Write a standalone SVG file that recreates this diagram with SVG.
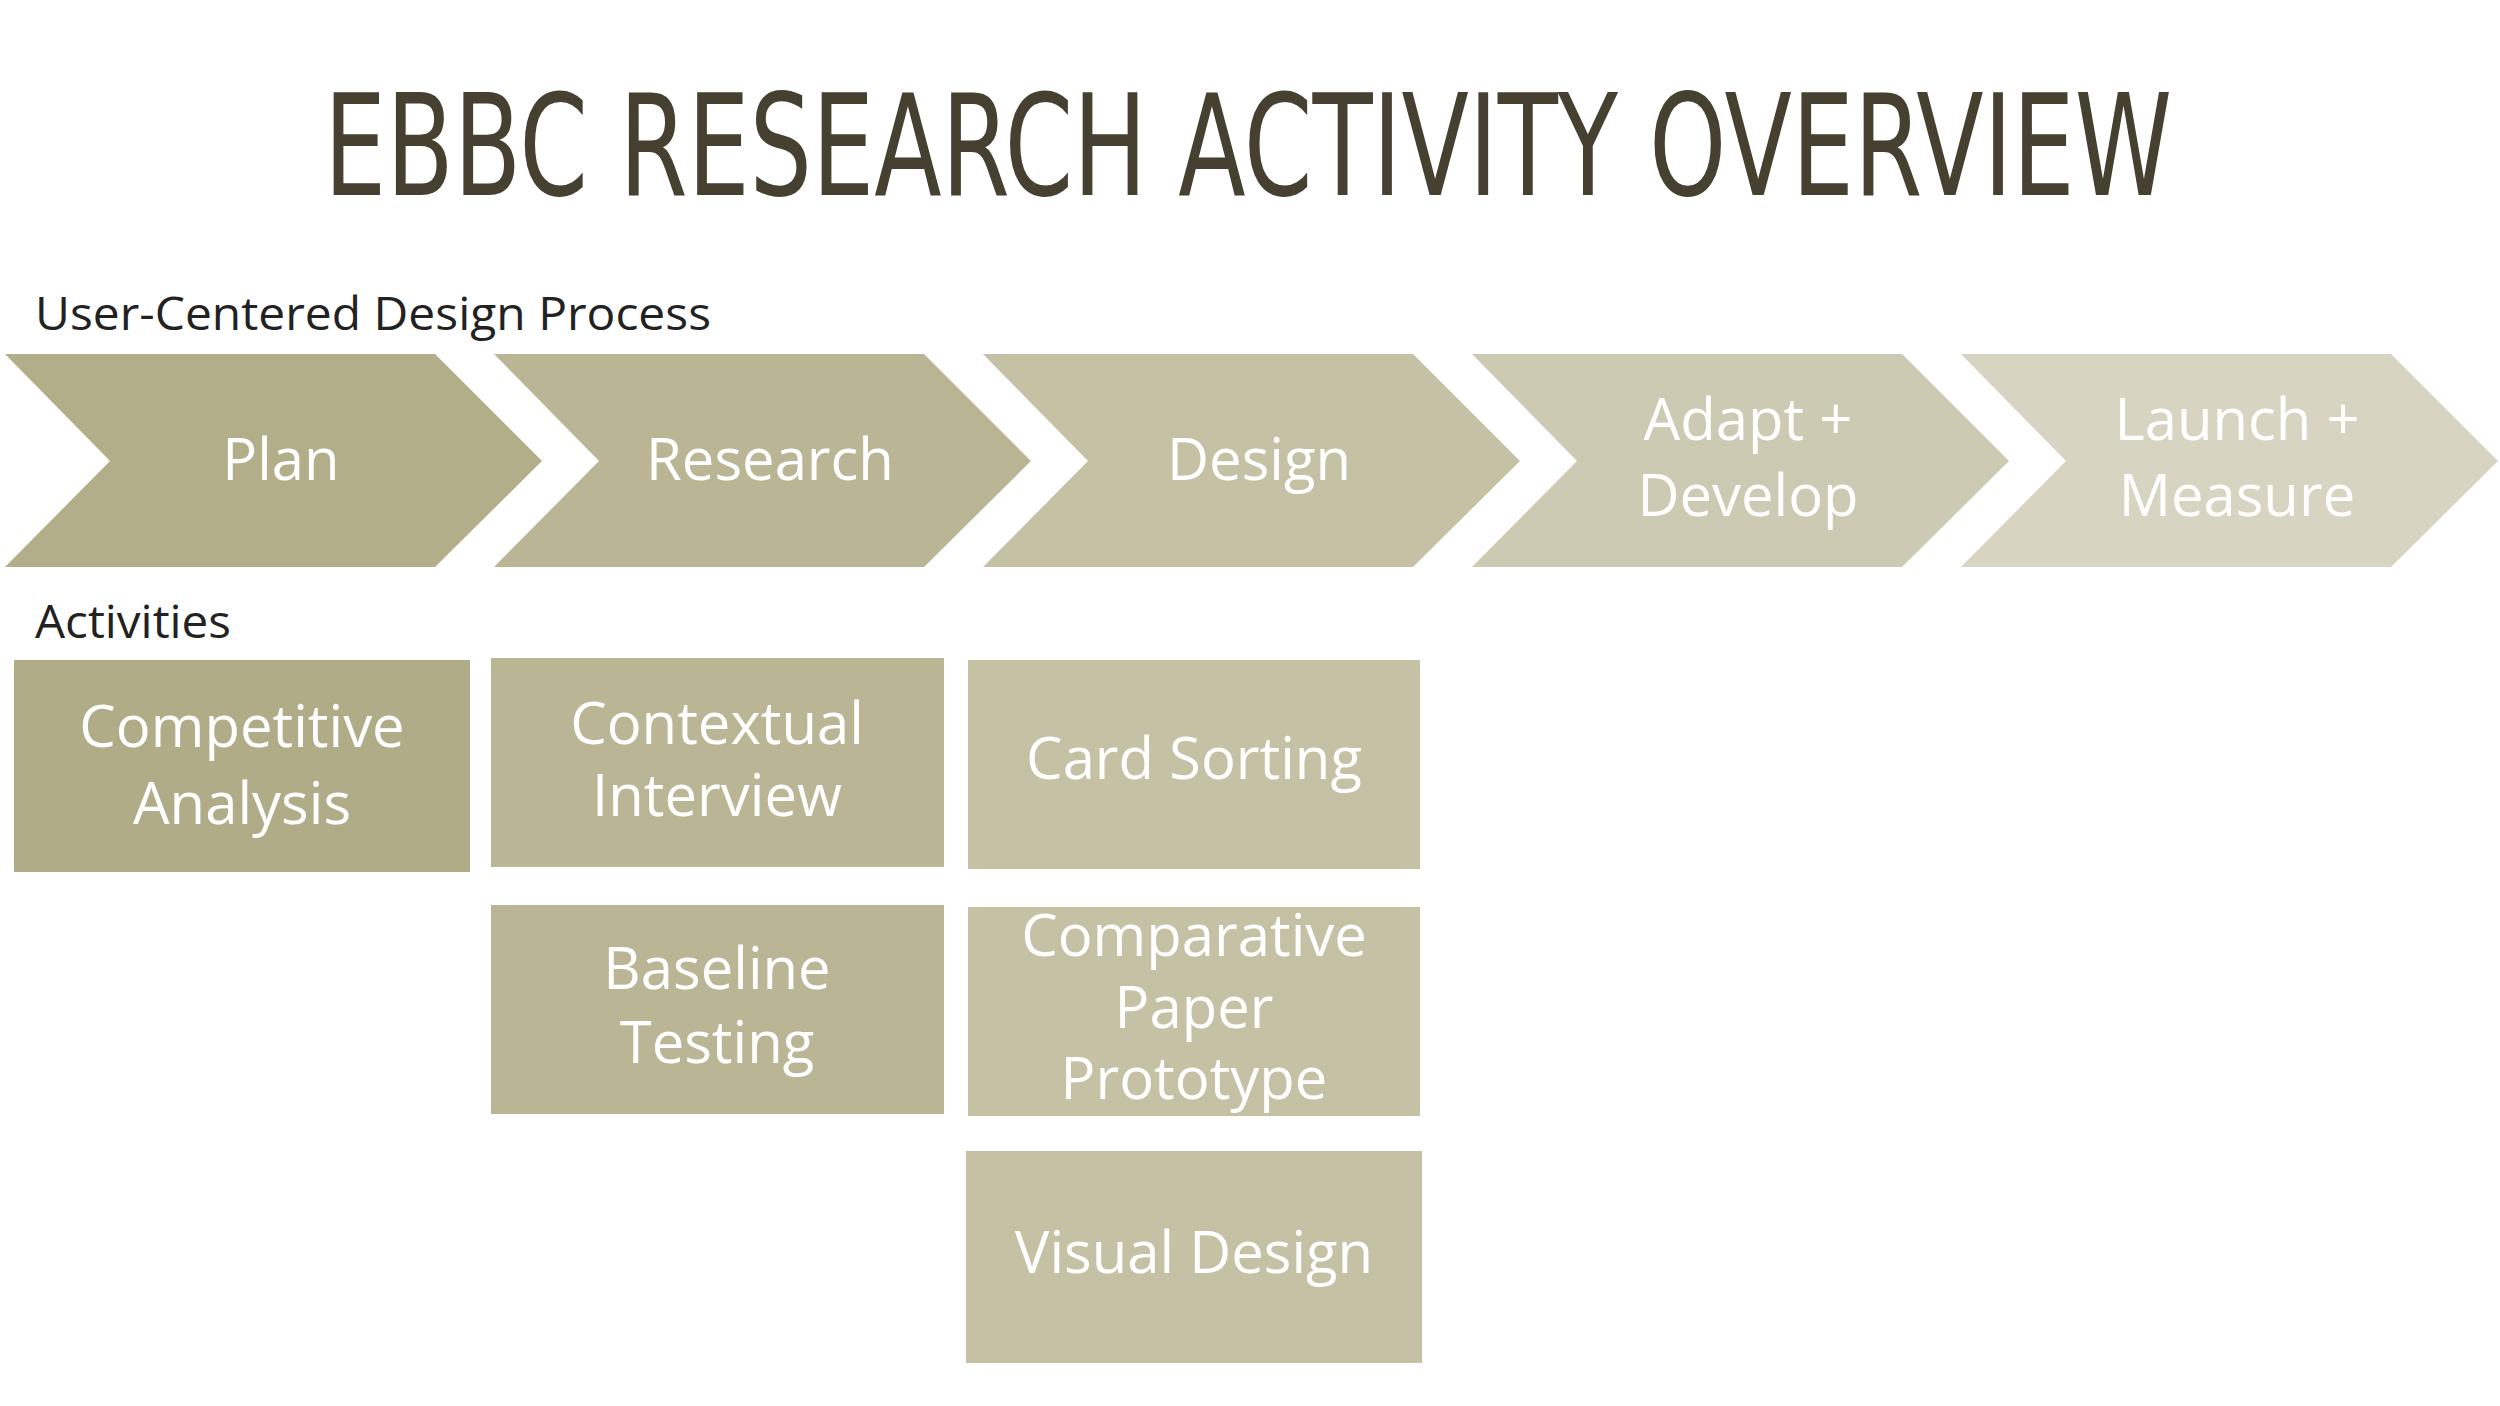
<svg xmlns="http://www.w3.org/2000/svg" width="2500" height="1406" viewBox="0 0 2500 1406">
<style>
.t{font-family:"Open Sans","DejaVu Sans",sans-serif;fill:#fff;text-anchor:middle;font-size:58px}
.h{font-family:"Open Sans","DejaVu Sans",sans-serif;fill:#222;font-size:46px}
</style>
<rect width="2500" height="1406" fill="#fff"/>
<text x="1248" y="195" font-family="'DejaVu Sans Condensed','Liberation Sans',sans-serif" font-size="140" fill="#454030" text-anchor="middle" textLength="1848" lengthAdjust="spacingAndGlyphs">EBBC RESEARCH ACTIVITY OVERVIEW</text>
<text class="h" x="35" y="330" textLength="676" lengthAdjust="spacingAndGlyphs">User-Centered Design Process</text>
<text class="h" x="35" y="638" textLength="196" lengthAdjust="spacingAndGlyphs">Activities</text>
<g id="plan"><polygon points="5,354 435,354 542,461 435,567 5,567 110,461" fill="#b3ae8a"/><text class="t" x="281" y="480">Plan</text></g>
<g id="research"><polygon points="494,354 924,354 1031,461 924,567 494,567 599,461" fill="#bab695"/><text class="t" x="770" y="480">Research</text></g>
<g id="design"><polygon points="983,354 1413,354 1520,461 1413,567 983,567 1088,461" fill="#c4c1a4"/><text class="t" x="1259" y="480">Design</text></g>
<g id="adapt"><polygon points="1472,354 1902,354 2009,461 1902,567 1472,567 1577,461" fill="#cdcab3"/><text class="t" x="1748" y="440">Adapt +</text><text class="t" x="1748" y="516">Develop</text></g>
<g id="launch"><polygon points="1961,354 2391,354 2498,461 2391,567 1961,567 2066,461" fill="#d7d4c2"/><text class="t" x="2237" y="440">Launch +</text><text class="t" x="2237" y="516">Measure</text></g>
<g id="competitive"><rect x="14" y="660" width="456" height="212" fill="#b1ac88"/><text class="t" x="242" y="747">Competitive</text><text class="t" x="242" y="824">Analysis</text></g>
<g id="contextual"><rect x="491" y="658" width="453" height="209" fill="#bab695"/><text class="t" x="717" y="744">Contextual</text><text class="t" x="717" y="816">Interview</text></g>
<g id="baseline"><rect x="491" y="905" width="453" height="209" fill="#bab695"/><text class="t" x="717" y="989">Baseline</text><text class="t" x="717" y="1063">Testing</text></g>
<g id="cardsorting"><rect x="968" y="660" width="452" height="209" fill="#c4c1a4"/><text class="t" x="1194" y="779">Card Sorting</text></g>
<g id="comparative"><rect x="968" y="907" width="452" height="209" fill="#c4c1a4"/><text class="t" x="1194" y="956">Comparative</text><text class="t" x="1194" y="1028">Paper</text><text class="t" x="1194" y="1099">Prototype</text></g>
<g id="visual"><rect x="966" y="1151" width="456" height="212" fill="#c4c1a4"/><text class="t" x="1194" y="1273">Visual Design</text></g>
<g id="connectors"/>
</svg>
